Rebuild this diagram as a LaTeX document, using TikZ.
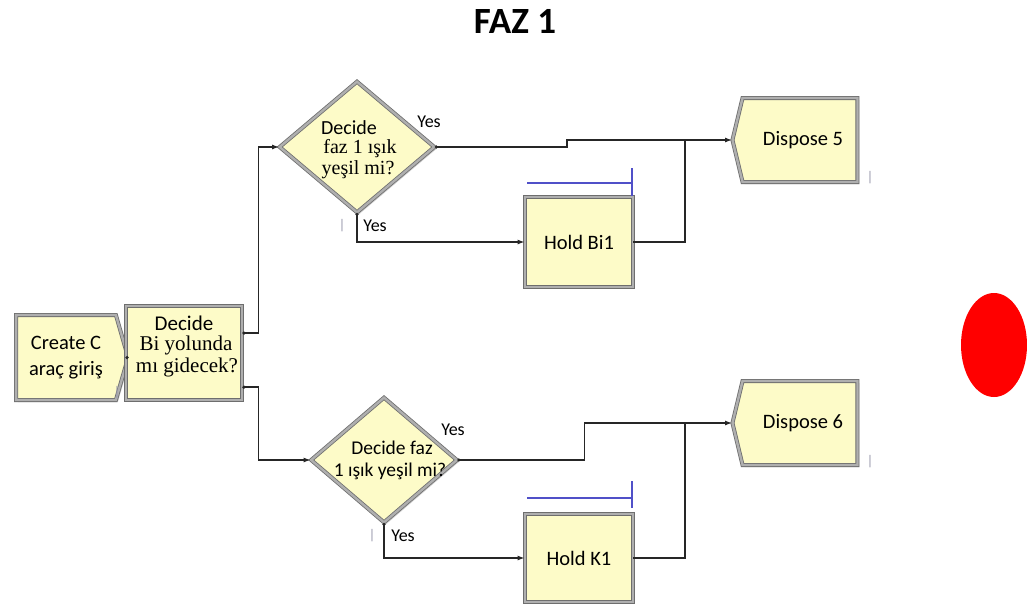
\documentclass[tikz,border=0pt]{standalone}
\usepackage{fontspec}
\setmainfont{Carlito}
\newfontfamily\serifx{Liberation Serif}
\usetikzlibrary{shapes.geometric,shapes.symbols,arrows.meta,shadows,calc}
\definecolor{boxfill}{RGB}{253,251,200}
\definecolor{boxedge}{RGB}{110,110,110}
\definecolor{boxband}{RGB}{175,175,175}
\definecolor{holdblue}{RGB}{80,80,200}
\definecolor{markgray}{RGB}{150,150,170}
\tikzset{
  blk/.style={fill=boxfill, draw=boxedge, line width=0.8pt, double=boxband, double distance=2.4pt,
    inner sep=0pt, align=center,
    font=\fontsize{20.5}{23}\selectfont,
    drop shadow={shadow xshift=2pt, shadow yshift=-2pt, fill=gray!60, opacity=0.6}},
  createbox/.style={blk, shape=signal, signal to=east, signal pointer angle=148,
    minimum width=112pt, minimum height=85pt},
  decbox/.style={blk, shape=rectangle, minimum width=116pt, minimum height=94pt},
  holdbox/.style={blk, shape=rectangle, minimum width=108pt, minimum height=90pt},
  disbox/.style={blk, shape=signal, signal to=west, signal from=nowhere, signal pointer angle=153,
    minimum width=125pt, minimum height=84pt},
  decdia/.style={blk, shape=diamond},
  sanstxt/.style={font=\fontsize{21}{21}\selectfont, inner sep=0pt},
  seriftxt/.style={font=\serifx\fontsize{21}{21}\selectfont, inner sep=0pt},
  conn/.style={draw=black!85, line width=1.3pt, {Circle[length=3pt]}-{Latex[length=7pt,width=5pt]}},
  mergeline/.style={draw=black!85, line width=1.3pt},
  yeslbl/.style={font=\fontsize{18}{20}\selectfont, inner sep=0pt},
  smallbar/.style={font=\fontsize{14}{16}\selectfont, text=markgray, inner sep=0pt},
  qbar/.style={draw=holdblue, line width=1.2pt}
}
\begin{document}
\begin{tikzpicture}[x=1pt,y=-1pt]
\useasboundingbox[fill=white] (0,0) rectangle (1027,611);

\node[font=\bfseries\fontsize{37}{40}\selectfont] (title) at (515,21) {FAZ 1};

% blocks
\node[createbox] (cr) at (66,357.5) {Create C\\[3pt]araç giriş};
\node[decbox] (dec) at (184,353) {};
\node[sanstxt] (dect1) at (184,323) {Decide};
\node[seriftxt] (dect2) at (186,345) {Bi yolunda};
\node[seriftxt] (dect3) at (187,367) {mı gidecek?};

\node[decdia, minimum width=155pt, minimum height=131pt] (d1) at (357,147) {};
\node[sanstxt, font=\fontsize{20}{20}\selectfont] (d1t1) at (349,128) {Decide};
\node[seriftxt, font=\serifx\fontsize{20}{20}\selectfont] (d1t2) at (360,149) {faz 1 ışık};
\node[seriftxt, font=\serifx\fontsize{20}{20}\selectfont] (d1t3) at (358,170) {yeşil mi?};

\node[decdia, minimum width=146pt, minimum height=125pt] (d2) at (384,460) {};
\node[sanstxt, font=\fontsize{19.5}{20}\selectfont] (d2t1) at (392,448) {Decide faz};
\node[sanstxt, font=\fontsize{19.5}{20}\selectfont] (d2t2) at (390,471) {1 ışık yeşil mi?};

\node[holdbox] (h1) at (579,242) {Hold Bi1};
\node[holdbox, minimum height=88pt] (h2) at (579,558) {Hold K1};
\node[disbox] (ds5) at (800,140) {\hspace*{6pt}Dispose 5};
\node[disbox] (ds6) at (800,423) {\hspace*{6pt}Dispose 6};

% queue bars above hold blocks
\coordinate (q1a) at (527,183); \coordinate (q1b) at (632,183);
\coordinate (q1t) at (632,168); \coordinate (q1u) at (632,196);
\draw[qbar] (q1a) -- (q1b); \draw[qbar] (q1t) -- (q1u);
\coordinate (q2a) at (527,498); \coordinate (q2b) at (632,498);
\coordinate (q2t) at (632,481); \coordinate (q2u) at (632,508);
\draw[qbar] (q2a) -- (q2b); \draw[qbar] (q2t) -- (q2u);

% labels
\node[yeslbl] (y1) at (429,122) {Yes};
\node[yeslbl] (y2) at (375,226) {Yes};
\node[yeslbl] (y3) at (453,430) {Yes};
\node[yeslbl] (y4) at (403,536) {Yes};
\node[smallbar] (b1) at (117,393) {|};
\node[smallbar] (b2) at (342,226) {|};
\node[smallbar] (b3) at (372,536) {|};
\node[smallbar] (b4) at (870,178) {|};
\node[smallbar] (b5) at (870,462) {|};

% connectors
\coordinate (o1) at ($(dec.north east)!0.29!(dec.south east)$);
\coordinate (o2) at ($(dec.north east)!0.86!(dec.south east)$);
\draw[mergeline, {Circle[length=3pt]}-] (cr.east) -- (cr.east -| dec.west);
\draw[conn] (o1) -- ++(16,0) |- (d1.west);
\draw[conn] (o2) -- ++(16,0) |- (d2.west);
\draw[conn] (d1.east) -- ++(132,0) |- (ds5.west);
\draw[conn] (d1.south) |- (h1.west);
\draw[conn] (d2.east) -- ++(127,0) |- (ds6.west);
\draw[conn] (d2.south) |- (h2.west);
\coordinate (m5) at (685,140);
\coordinate (m6) at (685,423);
\draw[mergeline] (h1.east) -| (m5);
\draw[mergeline] (h2.east) -| (m6);

% red signal
\node[ellipse, fill=red, minimum width=66pt, minimum height=104pt, inner sep=0pt] (light) at (994,345) {};
\end{tikzpicture}
\end{document}
